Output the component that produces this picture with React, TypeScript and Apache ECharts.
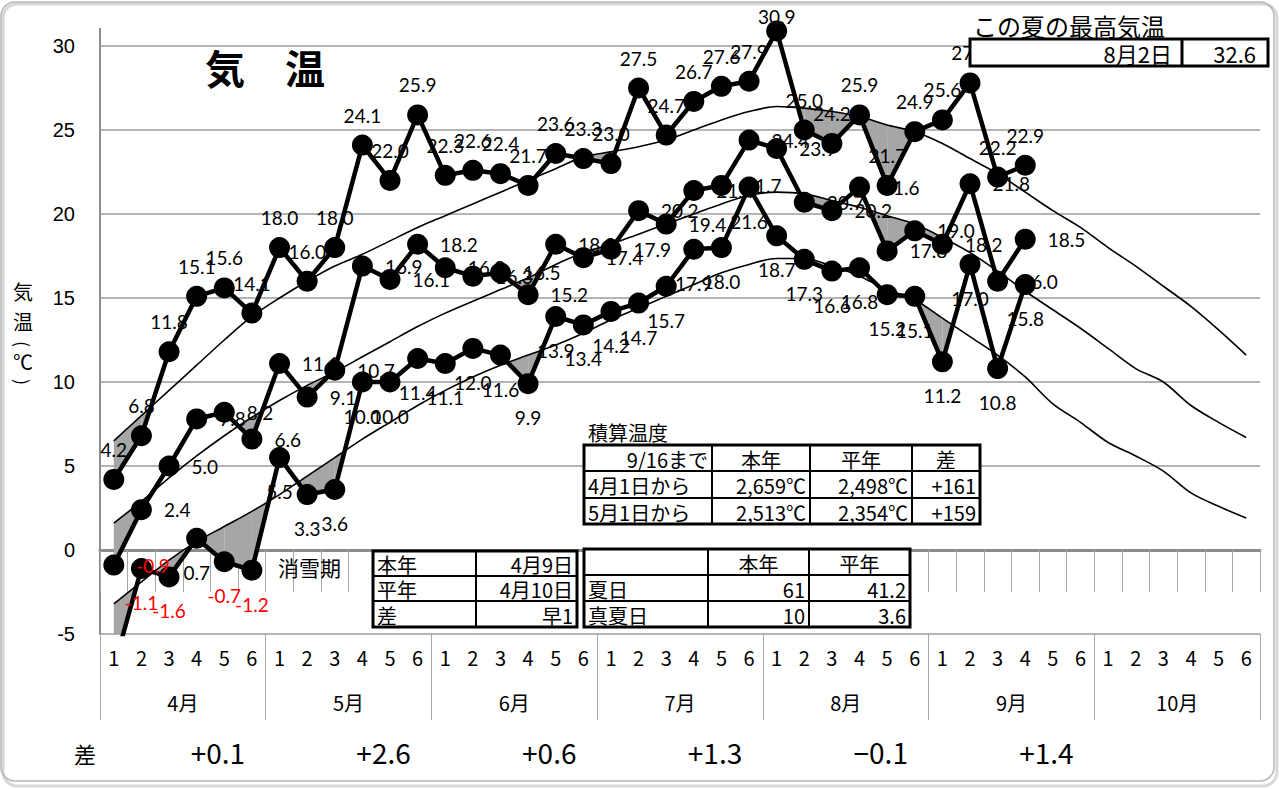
import React, { useEffect, useRef } from "react";
import * as echarts from "echarts";

// ---------- data ----------
const halfLabels = [
  "1","2","3","4","5","6", "1","2","3","4","5","6", "1","2","3","4","5","6",
  "1","2","3","4","5","6", "1","2","3","4","5","6", "1","2","3","4","5","6",
  "1","2","3","4","5","6",
];
const months = ["4月", "5月", "6月", "7月", "8月", "9月", "10月"];
const monthDiffs = ["+0.1", "+2.6", "+0.6", "+1.3", "−0.1", "+1.4", ""];

const maxTemp = [
  4.2, 6.8, 11.8, 15.1, 15.6, 14.1,
  18.0, 16.0, 18.0, 24.1, 22.0, 25.9,
  22.3, 22.6, 22.4, 21.7, 23.6, 23.3,
  23.0, 27.5, 24.7, 26.7, 27.6, 27.9,
  30.9, 25.0, 24.2, 25.9, 21.7, 24.9,
  25.6, 27.8, 22.2, 22.9,
];
const meanTemp = [
  -0.9, 2.4, 5.0, 7.8, 8.2, 6.6,
  11.1, 9.1, 10.7, 16.9, 16.1, 18.2,
  16.8, 16.3, 16.5, 15.2, 18.2, 17.4,
  17.9, 20.2, 19.4, 21.4, 21.7, 24.4,
  23.9, 20.7, 20.2, 21.6, 17.8, 19.0,
  18.2, 21.8, 16.0, 18.5,
];
const minTemp = [
  -7.0, -1.1, -1.6, 0.7, -0.7, -1.2,
  5.5, 3.3, 3.6, 10.0, 10.0, 11.4,
  11.1, 12.0, 11.6, 9.9, 13.9, 13.4,
  14.2, 14.7, 15.7, 17.9, 18.0, 21.6,
  18.7, 17.3, 16.6, 16.8, 15.2, 15.1,
  11.2, 17.0, 10.8, 15.8,
];
const normalMax = [
  6.5, 8.0, 9.5, 11.0, 12.5, 13.9,
  15.0, 16.0, 16.9, 17.6, 18.4, 19.2,
  19.9, 20.6, 21.3, 22.0, 22.7, 23.4,
  23.7, 24.0, 24.4, 25.0, 25.6, 26.1,
  26.4, 26.3, 26.1, 25.8, 25.3, 24.9,
  24.2, 23.3, 22.4, 21.3, 20.2, 19.2,
  18.0, 16.9, 15.7, 14.5, 13.1, 11.6,
];
const normalMean = [
  1.6, 2.9, 4.3, 5.6, 6.8, 7.9,
  8.9, 9.8, 10.6, 11.5, 12.4, 13.3,
  14.1, 14.8, 15.5, 16.2, 17.0, 17.7,
  18.2, 18.8, 19.4, 20.0, 20.6, 21.1,
  21.3, 21.2, 20.8, 20.4, 19.9, 19.4,
  18.6, 17.7, 16.6, 15.4, 14.3, 13.2,
  12.0, 10.8, 10.0, 8.6, 7.6, 6.7,
];
const normalMin = [
  -3.2, -1.9, -0.6, 0.5, 1.4, 2.3,
  3.3, 4.4, 5.5, 6.6, 7.6, 8.6,
  9.5, 10.3, 11.0, 11.6, 12.2, 12.9,
  13.7, 14.4, 15.1, 15.8, 16.5, 17.0,
  17.35, 17.35, 16.9, 16.3, 15.5, 14.9,
  13.8, 12.7, 11.6, 10.3, 8.7, 7.6,
  6.4, 5.6, 4.7, 3.4, 2.6, 1.9,
];
const yTicks = { min: -5, max: 30, interval: 5 };

const chartTitle = "気　温";
const yTitleChars = ["気", "温", "(", "℃", ")"];
const diffLabel = "差";
const hottestTitle = "この夏の最高気温";
const hottestDate = "8月2日";
const hottestValue = "32.6";
const accumTitle = "積算温度";
const accumRows = [
  ["9/16まで", "本年", "平年", "差"],
  ["4月1日から", "2,659℃", "2,498℃", "+161"],
  ["5月1日から", "2,513℃", "2,354℃", "+159"],
];
const snowTitle = "消雪期";
const snowRows = [
  ["本年", "4月9日"],
  ["平年", "4月10日"],
  ["差", "早1"],
];
const summerRows = [
  ["", "本年", "平年"],
  ["夏日", "61", "41.2"],
  ["真夏日", "10", "3.6"],
];

// ---------- styling ----------
const NARROW = "'Liberation Sans Narrow', 'Arial Narrow', 'Noto Sans CJK JP', sans-serif";
const JP = "'Noto Sans CJK JP', sans-serif";
const LABEL_FONT = "Lato, 'Noto Sans', sans-serif";

function txt(text: string, x: number, y: number, size: number, align = "left", family = NARROW, weight = "normal", rotation = 0) {
  return {
    type: "text",
    x,
    y,
    z: 20,
    rotation,
    silent: true,
    style: {
      text,
      fill: "#000",
      fontSize: size,
      fontFamily: family,
      fontWeight: weight,
      align,
      verticalAlign: "middle",
      textAlign: align,
      textVerticalAlign: "middle",
    },
  };
}

function table(cols: number[], rows: number[], cells: string[][], aligns: string[][], size: number) {
  const els: any[] = [];
  const x0 = cols[0], x1 = cols[cols.length - 1], y0 = rows[0], y1 = rows[rows.length - 1];
  els.push({ type: "rect", z: 15, silent: true, shape: { x: x0, y: y0, width: x1 - x0, height: y1 - y0 }, style: { fill: "#fff", stroke: "#000", lineWidth: 3 } });
  for (let c = 1; c < cols.length - 1; c++) {
    els.push({ type: "line", z: 16, silent: true, shape: { x1: cols[c], y1: y0, x2: cols[c], y2: y1 }, style: { stroke: "#000", lineWidth: 2 } });
  }
  for (let r = 1; r < rows.length - 1; r++) {
    els.push({ type: "line", z: 16, silent: true, shape: { x1: x0, y1: rows[r], x2: x1, y2: rows[r] }, style: { stroke: "#000", lineWidth: 2 } });
  }
  cells.forEach((row, r) => {
    row.forEach((cell, c) => {
      if (!cell) return;
      const a = aligns[r][c];
      const x = a === "left" ? cols[c] + 4 : a === "right" ? cols[c + 1] - 4 : (cols[c] + cols[c + 1]) / 2;
      els.push(txt(cell, x, (rows[r] + rows[r + 1]) / 2 + 1, size, a));
    });
  });
  return els;
}

function labelled(arr: number[], yMin: number, yMax: number) {
  return arr.map((v) => {
    const label: any = { show: v >= yMin, color: v < 0 ? "#ff0000" : "#000" };
    if (v > yMax) label.distance = -6;
    return { value: v, label };
  });
}

function gapData(actual: number[], normal: number[]) {
  const out: number[][] = [];
  for (let i = 0; i < actual.length - 1; i++) {
    out.push([i, actual[i], actual[i + 1], normal[i], normal[i + 1]]);
  }
  return out;
}

function renderGap(params: any, api: any) {
  const i = api.value(0) as number;
  const a0 = api.value(1) as number, a1 = api.value(2) as number;
  const n0 = api.value(3) as number, n1 = api.value(4) as number;
  const d0 = n0 - a0, d1 = n1 - a1;
  const A0 = api.coord([i, a0]), A1 = api.coord([i + 1, a1]);
  const N0 = api.coord([i, n0]), N1 = api.coord([i + 1, n1]);
  let pts: number[][] | null = null;
  if (d0 >= 0 && d1 >= 0) {
    if (d0 === 0 && d1 === 0) return null;
    pts = [A0, A1, N1, N0];
  } else if (d0 > 0 && d1 < 0) {
    const t = d0 / (d0 - d1);
    pts = [A0, [A0[0] + (A1[0] - A0[0]) * t, A0[1] + (A1[1] - A0[1]) * t], N0];
  } else if (d0 < 0 && d1 > 0) {
    const t = d0 / (d0 - d1);
    pts = [[A0[0] + (A1[0] - A0[0]) * t, A0[1] + (A1[1] - A0[1]) * t], A1, N1];
  }
  if (!pts) return null;
  const cs = params.coordSys;
  return {
    type: "polygon",
    shape: { points: pts },
    style: { fill: "#a6a6a6", stroke: "none" },
    clipPath: { type: "rect", shape: { x: cs.x, y: cs.y, width: cs.width, height: cs.height } },
  };
}

export default function App() {
  const ref = useRef<HTMLDivElement>(null);
  useEffect(() => {
    if (!ref.current) return;
    const chart = echarts.init(ref.current, undefined, { renderer: "svg" });

    const normalLine = (name: string, data: number[]) => ({
      type: "line",
      name,
      data,
      symbol: "none",
      smooth: 0.3,
      silent: true,
      z: 3,
      lineStyle: { color: "#000", width: 1.6 },
    });
    const gapSeries = (actual: number[], normal: number[]) => ({
      type: "custom",
      data: gapData(actual, normal),
      encode: { x: 0, y: 1 },
      renderItem: renderGap,
      clip: true,
      silent: true,
      z: 2,
    });
    const actualLine = (name: string, data: number[], position: string, distance: number, clip: boolean) => ({
      type: "line",
      name,
      data: labelled(data, yTicks.min, yTicks.max),
      symbol: "circle",
      symbolSize: 21,
      clip,
      z: 5,
      itemStyle: { color: "#000" },
      lineStyle: { color: "#000", width: 4.5 },
      label: {
        show: true,
        position,
        distance,
        fontFamily: LABEL_FONT,
        fontSize: 19,
        color: "#000",
        formatter: (p: any) => Number(p.value).toFixed(1),
      },
    });

    const hdrAlign = ["right", "center", "center", "center"];
    const bodyAlign = ["left", "right", "right", "right"];
    const graphics: any[] = [
      {
        type: "rect",
        z: -5,
        silent: true,
        shape: { x: 3, y: 4, width: 1274, height: 782, r: 14 },
        style: { fill: "none", stroke: "#d8d8d8", lineWidth: 3 },
      },
      {
        type: "rect",
        z: -4,
        silent: true,
        shape: { x: 1, y: 2, width: 1273, height: 779, r: 14 },
        style: { fill: "none", stroke: "#b8b8b8", lineWidth: 1.5 },
      },
      { type: "line", z: 1, silent: true, shape: { x1: 100, y1: 28, x2: 100, y2: 46 }, style: { stroke: "#8c8c8c", lineWidth: 2 } },
      txt(chartTitle, 205, 67, 40, "left", JP, "bold"),
      txt(diffLabel, 85, 753, 22, "center", JP),
      txt(hottestTitle, 973, 25, 24, "left", JP),
      {
        type: "rect", z: 15, silent: true,
        shape: { x: 970, y: 39, width: 298, height: 27 },
        style: { fill: "#fff", stroke: "#000", lineWidth: 3 },
      },
      { type: "line", z: 16, silent: true, shape: { x1: 1182, y1: 39, x2: 1182, y2: 66 }, style: { stroke: "#000", lineWidth: 3 } },
      txt(hottestDate, 1172, 53, 22, "right"),
      txt(hottestValue, 1256, 53, 22, "right"),
      txt(accumTitle, 588, 432, 20, "left", JP),
      txt(snowTitle, 278, 567, 21, "left", JP),
      ...table([584, 712, 810, 912, 980], [445, 471, 498, 524], accumRows, [hdrAlign, bodyAlign, bodyAlign], 20),
      ...table([373, 476, 577], [551, 576, 601, 627], snowRows, [["left", "right"], ["left", "right"], ["left", "right"]], 20),
      ...table([584, 708, 809, 910], [549, 575, 601, 627], summerRows, [["left", "center", "center"], ["left", "right", "right"], ["left", "right", "right"]], 20),
    ];
    const yCharPos = [291, 321, 344, 361, 382];
    yTitleChars.forEach((ch, k) => {
      const isParen = ch === "(" || ch === ")";
      graphics.push(txt(ch, 23, yCharPos[k], isParen ? 18 : 20, "center", JP, "normal", isParen ? -Math.PI / 2 : 0));
    });

    const option: any = {
      animation: false,
      backgroundColor: "#fff",
      grid: { left: 100, right: 19, top: 46, bottom: 155, containLabel: false },
      xAxis: [
        {
          type: "category",
          data: halfLabels,
          position: "bottom",
          boundaryGap: true,
          axisLine: { show: true, lineStyle: { color: "#8c8c8c", width: 3 } },
          axisTick: { show: true, interval: 0, length: 42, lineStyle: { color: "#a6a6a6", width: 1 } },
          axisLabel: { interval: 0, margin: 13, fontSize: 20, color: "#000", fontFamily: NARROW },
          splitLine: { show: false },
        },
        {
          type: "category",
          data: months,
          position: "bottom",
          boundaryGap: true,
          axisLine: { show: false },
          axisTick: { show: true, interval: 0, length: 86, lineStyle: { color: "#a6a6a6", width: 1 } },
          axisLabel: { interval: 0, margin: 58, fontSize: 20, color: "#000", fontFamily: NARROW },
          splitLine: { show: false },
        },
        {
          type: "category",
          data: monthDiffs,
          position: "bottom",
          boundaryGap: true,
          axisLine: { show: false },
          axisTick: { show: false },
          axisLabel: { interval: 0, margin: 104, fontSize: 28, color: "#000", fontFamily: NARROW, padding: [0, 0, 0, 70] },
          splitLine: { show: false },
        },
      ],
      yAxis: {
        type: "value",
        min: yTicks.min,
        max: yTicks.max,
        interval: yTicks.interval,
        axisLine: { show: true, lineStyle: { color: "#8c8c8c", width: 2 } },
        axisTick: { show: false },
        axisLabel: { margin: 25, fontSize: 20, color: "#000", fontFamily: "'Liberation Sans', sans-serif" },
        splitLine: { show: true, lineStyle: { color: "#b4b4b4", width: 2 } },
      },
      series: [
        gapSeries(maxTemp, normalMax),
        gapSeries(meanTemp, normalMean),
        gapSeries(minTemp, normalMin),
        normalLine("平年最高", normalMax),
        normalLine("平年平均", normalMean),
        normalLine("平年最低", normalMin),
        actualLine("最高", maxTemp, "top", 10, false),
        actualLine("平均", meanTemp, "right", 12, true),
        actualLine("最低", minTemp, "bottom", 14, true),
      ],
      graphic: { elements: graphics },
    };
    chart.setOption(option);
    return () => chart.dispose();
  }, []);
  return (
    <div
      ref={ref}
      style={{ position: "fixed", left: 0, top: 0, width: 1279, height: 789, background: "#fff" }}
    />
  );
}
